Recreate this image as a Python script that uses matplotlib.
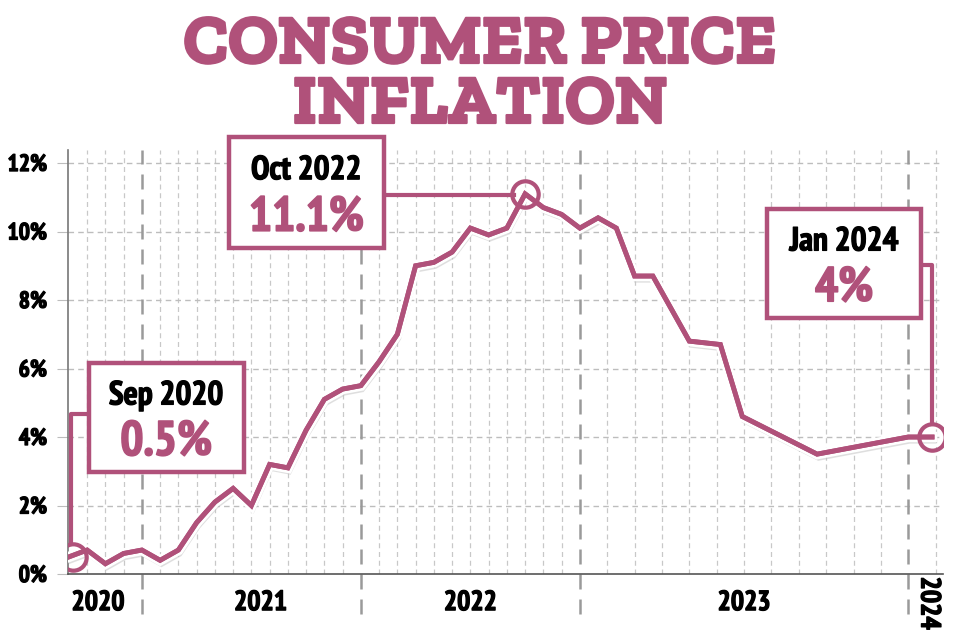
import matplotlib
matplotlib.use("Agg")
import matplotlib.pyplot as plt
from matplotlib.patches import Rectangle
import matplotlib.patheffects as pe

# data (x = month slot from Sep 2020, as laid out in the graphic)
pos = list(range(0, 33)) + [34, 35.7, 36.9, 41.0, 46.0, 47.3]
cpi = [0.5, 0.7, 0.3, 0.6,
       0.7, 0.4, 0.7, 1.5, 2.1, 2.5, 2.0, 3.2, 3.1, 4.2, 5.1, 5.4,
       5.5, 6.2, 7.0, 9.0, 9.1, 9.4, 10.1, 9.9, 10.1, 11.1, 10.7, 10.5,
       10.1, 10.4, 10.1, 8.7, 8.7,
       6.8, 6.7, 4.6, 3.5, 4.0, 4.0]
year_lines = [4, 16, 28, 46]
year_labels = ["2020", "2021", "2022", "2023"]
year_label_pos = [1.6, 10.5, 22.0, 37.0]
yticks = [0, 2, 4, 6, 8, 10, 12]
highlights = [(0.2, 0.5, "Sep 2020", "0.5%"), (25, 11.1, "Oct 2022", "11.1%"), (47.3, 4.0, "Jan 2024", "4%")]

pink = "#b0517a"
cond = ["PT Sans Narrow", "Liberation Sans Narrow", "DejaVu Sans"]
slab = ["Zilla Slab", "DejaVu Serif"]
bold_black = [pe.withStroke(linewidth=0.9, foreground="black")]
bold_pink = [pe.withStroke(linewidth=1.2, foreground=pink)]

fig = plt.figure(figsize=(9.6, 6.4), dpi=100)
ax = fig.add_axes([0.0708, 0.1031, 0.9115, 0.6625])

ax.set_xlim(-0.05, 47.9)
ax.set_ylim(0, 12.38)

# month grid
months = [m for m in range(1, 28) if m not in year_lines] + [28 + 1.5 * k for k in range(1, 12)] + [47.5]
for m in months:
    ax.axvline(m, color="#c8c8c8", lw=0.9, ls=(0, (4, 3)), zorder=1)
for y in yticks[1:]:
    ax.axhline(y, color="#bdbdbd", lw=1.0, ls=(0, (4, 3)), zorder=1)
for m in year_lines:
    ax.axvline(m, ymin=-0.095, ymax=1, color="#9a9a9a", lw=1.8, ls=(0, (6, 4)), clip_on=False, zorder=1)

ax.plot(pos, cpi, color=pink, lw=3.5, solid_joinstyle="miter", zorder=3,
        path_effects=[pe.SimpleLineShadow(offset=(1, -3), shadow_color="0.75", alpha=0.5),
                      pe.withStroke(linewidth=7.5, foreground="white"), pe.Normal()])

for x, y, _, _ in highlights:
    ax.plot(x, y, "o", ms=19, mfc="none", mec=pink, mew=3, zorder=4)

ax.set_yticks(yticks)
ax.set_yticklabels([f"{v}%" for v in yticks], fontsize=17, fontweight="bold", family=cond)
for t in ax.get_yticklabels():
    t.set_path_effects(bold_black)
ax.tick_params(axis="y", length=8, color="#bdbdbd", pad=7)
ax.set_xticks([])
for s in ["top", "right"]:
    ax.spines[s].set_visible(False)
ax.spines["left"].set_color("#777777")
ax.spines["left"].set_linewidth(1.2)
ax.spines["bottom"].set_color("#555555")
ax.spines["bottom"].set_linewidth(1.2)

for lab, x in zip(year_labels, year_label_pos):
    ax.text(x, -0.85, lab, ha="center", va="center", fontsize=20, fontweight="bold", family=cond,
            path_effects=bold_black)
ax.text(47.1, -0.85, "2024", ha="center", va="center", rotation=270, fontsize=20, fontweight="bold",
        family=cond, path_effects=bold_black)

# annotation boxes
boxes = [(1.09, 2.98, 8.48, 3.18), (8.75, 9.52, 8.53, 3.24), (38.27, 7.47, 8.42, 3.19)]
for (x0, y0, w, h), (hx, hy, top, val) in zip(boxes, highlights):
    ax.add_patch(Rectangle((x0, y0), w, h, fc="white", ec=pink, lw=3.2, zorder=5, clip_on=False))
    cx = x0 + w / 2
    ax.text(cx, y0 + h * 0.62, top, ha="center", va="baseline", fontsize=24, fontweight="bold",
            family=cond, zorder=6, clip_on=False, path_effects=bold_black)
    ax.text(cx, y0 + h * 0.155, val, ha="center", va="baseline", fontsize=35, fontweight="bold",
            color=pink, family=cond, zorder=6, clip_on=False, path_effects=bold_pink)

# connectors
ax.plot([0.1, 0.1, 1.09], [0.9, 4.67, 4.67], color=pink, lw=3, zorder=4, clip_on=False)
ax.plot([17.28, 24.4], [11.07, 11.07], color=pink, lw=3, zorder=4, clip_on=False)
ax.plot([46.69, 47.3, 47.3], [9.02, 9.02, 4.38], color=pink, lw=3, zorder=4, clip_on=False)

title_fx = [pe.withStroke(linewidth=1.6, foreground=pink)]
fig.text(0.5, 1 - 63 / 640, "CONSUMER PRICE", ha="center", va="baseline", fontsize=50,
         fontweight="bold", family=slab, color=pink, path_effects=title_fx)
fig.text(0.5, 1 - 123 / 640, "INFLATION", ha="center", va="baseline", fontsize=50,
         fontweight="bold", family=slab, color=pink, path_effects=title_fx)

fig.savefig("out.png", dpi=100)
